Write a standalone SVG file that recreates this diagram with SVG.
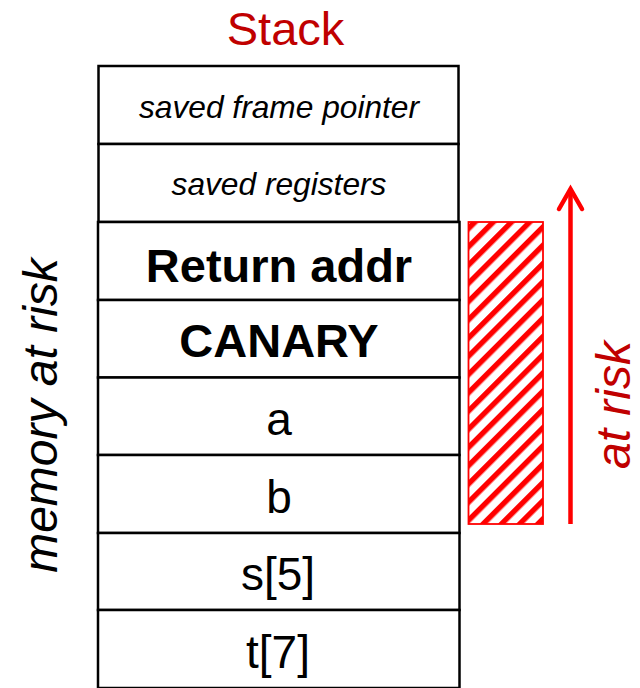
<svg xmlns="http://www.w3.org/2000/svg" width="640" height="688" viewBox="0 0 640 688">
  <defs>
    <style>
      .cell { fill: #ffffff; stroke: #000000; stroke-width: 2.5; }
      .lbl { font-family: "Liberation Sans", Arial, sans-serif; fill: #000000; text-anchor: middle; }
      .it { font-style: italic; font-size: 31.7px; }
      .bold { font-weight: bold; font-size: 47px; }
      .reg { font-size: 46px; }
      .red { fill: #c00000; }
      .side { font-family: "Liberation Sans", Arial, sans-serif; font-style: italic; font-size: 48px; text-anchor: middle; }
      .arrow { fill: none; stroke: #ff0000; stroke-width: 4.5; }
    </style>
    <!-- diagonal red stripes for the overwritten region -->
    <pattern id="hatch" patternUnits="userSpaceOnUse" width="12.9" height="12.9" patternTransform="rotate(45)">
      <rect x="0" y="0" width="12.9" height="12.9" fill="#ffffff"/>
      <rect x="0" y="0" width="5.4" height="12.9" fill="#ff0000"/>
    </pattern>
  </defs>

  <rect width="640" height="688" fill="#ffffff"/>

  <text class="lbl red" x="285.5" y="45" font-size="47">Stack</text>

  <g id="saved-frame-pointer">
    <rect class="cell" x="98.5" y="66" width="360" height="78"/>
    <text class="lbl it" x="279" y="118">saved frame pointer</text>
  </g>
  <g id="saved-registers">
    <rect class="cell" x="98.5" y="144" width="360" height="78"/>
    <text class="lbl it" x="279" y="195">saved registers</text>
  </g>
  <g id="return-addr">
    <rect class="cell" x="98" y="222" width="361.5" height="78"/>
    <text class="lbl bold" x="279" y="282">Return addr</text>
  </g>
  <g id="canary">
    <rect class="cell" x="98" y="300" width="361.5" height="77.5"/>
    <text class="lbl bold" x="279" y="357">CANARY</text>
  </g>
  <g id="var-a">
    <rect class="cell" x="98" y="377.5" width="361.5" height="77.5"/>
    <text class="lbl reg" x="279" y="435">a</text>
  </g>
  <g id="var-b">
    <rect class="cell" x="98" y="455" width="361.5" height="78"/>
    <text class="lbl reg" x="279" y="512.5">b</text>
  </g>
  <g id="var-s">
    <rect class="cell" x="98" y="533" width="361.5" height="77"/>
    <text class="lbl reg" x="278" y="590">s[5]</text>
  </g>
  <g id="var-t">
    <rect class="cell" x="98" y="610" width="361.5" height="78"/>
    <text class="lbl reg" x="278" y="668">t[7]</text>
  </g>

  <g id="memory-at-risk">
    <text class="side" transform="translate(56.5,415.5) rotate(-90)" fill="#000000">memory at risk</text>
  </g>

  <g id="overflow-region">
    <rect x="468.5" y="222" width="74.5" height="302" fill="url(#hatch)" stroke="#ff0000" stroke-width="1.8"/>
  </g>

  <g id="connectors">
    <!-- upward growth arrow with an open head -->
    <line class="arrow" x1="570.5" y1="524" x2="570.5" y2="190"/>
    <path class="arrow" d="M559,209 L570.5,189 L582,209" stroke-linecap="round" stroke-linejoin="miter"/>
  </g>

  <g id="at-risk">
    <text class="side" fill="#c00000" transform="translate(630,405) rotate(-90)">at risk</text>
  </g>
</svg>
